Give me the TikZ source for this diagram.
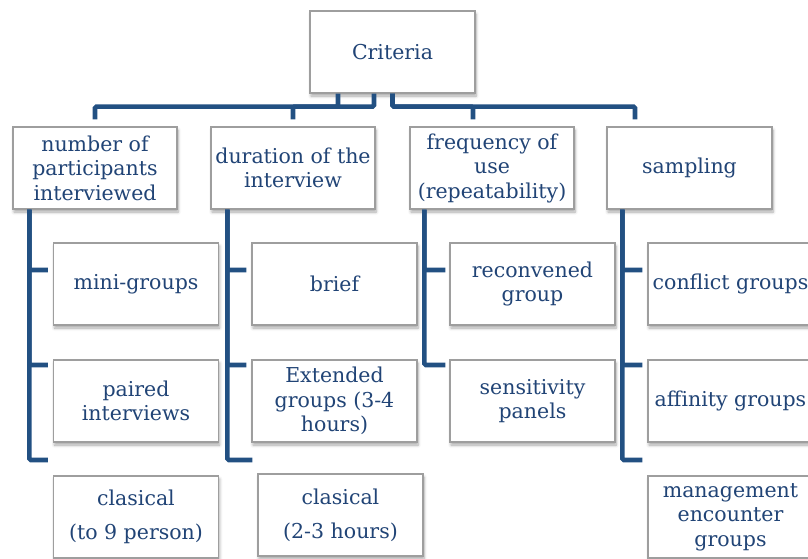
\documentclass[tikz,border=0pt]{standalone}
\usepackage{fontspec}
\setmainfont{DejaVu Serif}
\usetikzlibrary{shadows.blur}
\definecolor{txtblue}{RGB}{33,68,118}
\definecolor{linkblue}{RGB}{34,80,130}
\definecolor{boxgray}{RGB}{158,158,158}
\tikzset{
  card/.style={draw=boxgray, line width=1.3pt, fill=white,
    minimum width=165pt, minimum height=82pt, inner sep=0pt,
    align=center, text=txtblue,
    font=\fontsize{20.5}{24.5}\selectfont,
    blur shadow={shadow xshift=1pt, shadow yshift=-3pt,
      shadow blur radius=3pt, shadow blur steps=6, shadow opacity=35}},
  link/.style={draw=linkblue, line width=4.6pt, rounded corners=1.5pt}
}
\begin{document}
\begin{tikzpicture}[x=1pt, y=-1pt]
\useasboundingbox (0,0) rectangle (808,558);
\clip (0,0) rectangle (808,558);

% root and first level
\node[card] (crit) at (392.5,52) {Criteria};
\node[card, minimum width=164pt] (n1) at (95,168) {number of\\participants\\interviewed};
\node[card, minimum width=164pt] (n2) at (293,168) {duration of the\\interview};
\node[card, minimum width=164pt] (n3) at (492,168) {frequency of\\use\\(repeatability)};
\node[card] (n4) at (689.5,168) {sampling};

% second level
\node[card] (c11) at (136,284) {mini-groups};
\node[card] (c12) at (136,401) {paired\\interviews};
\node[card] (c13) at (136,517) {clasical\\[9.5pt](to 9 person)};
\node[card] (c21) at (334.5,284) {brief};
\node[card] (c22) at (334.5,401) {Extended\\groups (3-4\\hours)};
\node[card] (c23) at (340.5,515) {clasical\\[9.5pt](2-3 hours)};
\node[card] (c31) at (532.5,284) {reconvened\\group};
\node[card] (c32) at (532.5,401) {sensitivity\\panels};
\node[card] (c41) at (730.5,284) {conflict groups};
\node[card] (c42) at (730.5,401) {affinity groups};
\node[card] (c43) at (730.5,517) {management\\encounter\\groups};

% root to first level
\draw[link] ([xshift=-54.5pt]crit.south) -- ++(0,13) -| ([yshift=7pt]n1.north);
\draw[link] ([xshift=-18.5pt]crit.south) -- ++(0,13) -| ([yshift=7pt]n2.north);
\draw[link] (crit.south) -- ++(0,13) -| ([xshift=-19pt,yshift=7pt]n3.north);
\draw[link] (crit.south) -- ++(0,13) -| ([xshift=-54.5pt,yshift=7pt]n4.north);

% first level to second level
\draw[link, shorten >=5pt] ([xshift=17pt]n1.south west) |- (c11.west |- 0,270);
\draw[link, shorten >=5pt] ([xshift=17pt]n1.south west) |- (c12.west |- 0,365);
\draw[link, shorten >=5pt] ([xshift=17pt]n1.south west) |- (c13.west |- 0,460);
\draw[link, shorten >=5pt] ([xshift=17pt]n2.south west) |- (c21.west |- 0,270);
\draw[link, shorten >=5pt] ([xshift=17pt]n2.south west) |- (c22.west |- 0,365);
\draw[link, shorten >=5pt] ([xshift=17pt]n2.south west) |- (c23.west |- 0,460);
\draw[link, shorten >=4pt] ([xshift=15pt]n3.south west) |- (c31.west |- 0,270);
\draw[link, shorten >=4pt] ([xshift=15pt]n3.south west) |- (c32.west |- 0,365);
\draw[link, shorten >=5pt] ([xshift=16pt]n4.south west) |- (c41.west |- 0,270);
\draw[link, shorten >=5pt] ([xshift=16pt]n4.south west) |- (c42.west |- 0,365);
\draw[link, shorten >=5pt] ([xshift=16pt]n4.south west) |- (c43.west |- 0,460);
\end{tikzpicture}
\end{document}
